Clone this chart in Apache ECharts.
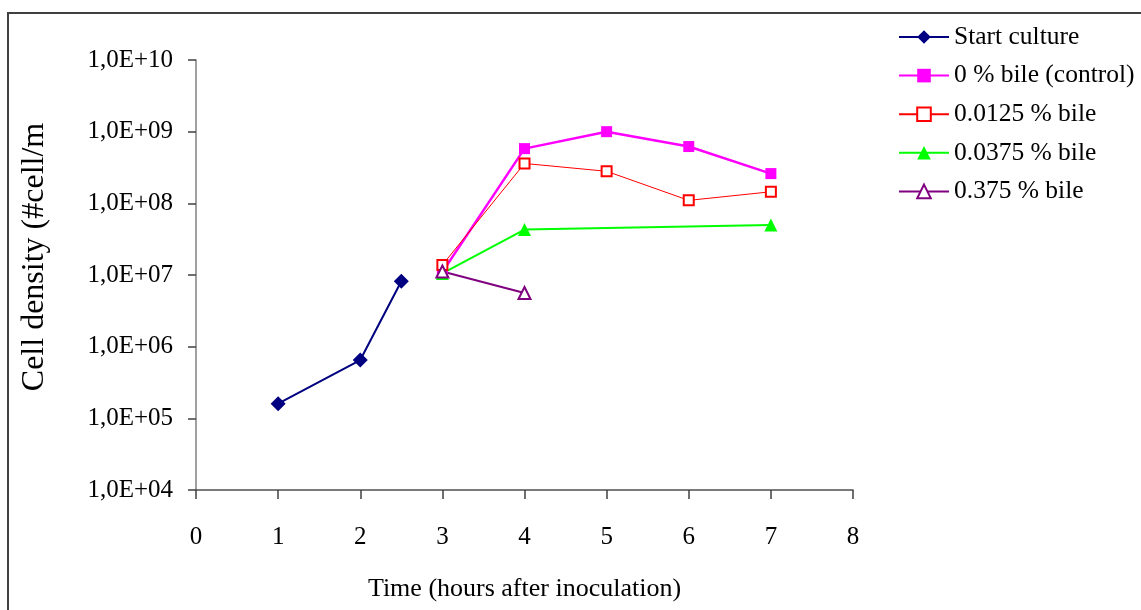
<!DOCTYPE html>
<html>
<head>
<meta charset="utf-8">
<script src="https://cdn.jsdelivr.net/npm/echarts@6/dist/echarts.min.js"></script>
<style>
html,body{margin:0;padding:0;background:#fff;}
#chart{width:1141px;height:610px;}
</style>
</head>
<body>
<div id="chart"></div>
<script>
// ---- data ----
var seriesNames = ['Start culture', '0 % bile (control)', '0.0125 % bile', '0.0375 % bile', '0.375 % bile'];
var startX = [1, 2, 2.5];
var startY = [1.6e5, 6.5e5, 8.2e6];
var ctrlX = [3, 4, 5, 6, 7];
var ctrlY = [1.1e7, 5.8e8, 1.0e9, 6.2e8, 2.6e8];
var b0125X = [3, 4, 5, 6, 7];
var b0125Y = [1.38e7, 3.6e8, 2.8e8, 1.1e8, 1.45e8];
var b0375X = [3, 4, 7];
var b0375Y = [1.05e7, 4.3e7, 5.0e7];
var b375X = [3, 4];
var b375Y = [1.12e7, 5.6e6];
var xTicks = [0, 1, 2, 3, 4, 5, 6, 7, 8];
var yTickLabels = ['1,0E+04', '1,0E+05', '1,0E+06', '1,0E+07', '1,0E+08', '1,0E+09', '1,0E+10'];

function pairs(xs, ys) { return xs.map(function (x, i) { return [x, ys[i]]; }); }

var FONT = 'Liberation Serif';
var chart = echarts.init(document.getElementById('chart'));
chart.setOption({
  backgroundColor: '#ffffff',
  animation: false,
  graphic: [
    { type: 'rect', shape: { x: 8, y: 13, width: 2000, height: 2000 },
      style: { fill: 'none', stroke: '#404040', lineWidth: 2 }, silent: true },
    { type: 'text', x: 35, y: 257, rotation: Math.PI / 2,
      style: { text: 'Cell density (#cell/m', font: '32px "Liberation Serif"', fill: '#000',
               align: 'center', verticalAlign: 'middle' } }
  ],
  legend: {
    orient: 'vertical', left: 898, top: 24, padding: 0,
    itemWidth: 50, itemHeight: 17, itemGap: 12.6,
    data: seriesNames,
    textStyle: { fontFamily: FONT, fontSize: 25.5, color: '#000', lineHeight: 26 }
  },
  grid: { left: 196, right: 288, top: 60, bottom: 120, containLabel: false },
  xAxis: {
    type: 'value', min: 0, max: 8, interval: 1,
    name: 'Time (hours after inoculation)', nameLocation: 'middle', nameGap: 86,
    nameTextStyle: { fontFamily: FONT, fontSize: 26, color: '#000' },
    axisLine: { onZero: false, lineStyle: { color: '#505050', width: 1.5 } },
    axisTick: { show: true, length: 9, lineStyle: { color: '#404040', width: 1.5 } },
    axisLabel: { margin: 35, fontFamily: FONT, fontSize: 25, color: '#000',
      formatter: function (v) { return xTicks.indexOf(v) >= 0 ? String(v) : ''; } },
    splitLine: { show: false }
  },
  yAxis: {
    type: 'log', logBase: 10, min: 1e4, max: 1e10,
    axisLine: { show: true, lineStyle: { color: '#808080', width: 1.5 } },
    axisTick: { show: true, length: 8, lineStyle: { color: '#404040', width: 1.5 } },
    axisLabel: { margin: 23, fontFamily: FONT, fontSize: 25, color: '#000',
      formatter: function (v) {
        var e = Math.round(Math.log10(v));
        return yTickLabels[e - 4] || '';
      } },
    splitLine: { show: false }
  },
  series: [
    { name: seriesNames[0], type: 'line', data: pairs(startX, startY),
      symbol: 'diamond', symbolSize: 15, color: '#000080',
      lineStyle: { color: '#000080', width: 2 }, itemStyle: { color: '#000080' } },
    { name: seriesNames[1], type: 'line', data: pairs(ctrlX, ctrlY),
      symbol: 'rect', symbolSize: 11, color: '#ff00ff',
      lineStyle: { color: '#ff00ff', width: 2.5 }, itemStyle: { color: '#ff00ff' } },
    { name: seriesNames[2], type: 'line', data: pairs(b0125X, b0125Y),
      symbol: 'emptyRect', symbolSize: 10, color: '#ff0000',
      lineStyle: { color: '#ff0000', width: 1 }, itemStyle: { color: '#ff0000', borderWidth: 2 } },
    { name: seriesNames[3], type: 'line', data: pairs(b0375X, b0375Y),
      symbol: 'triangle', symbolSize: 13, color: '#00ff00',
      lineStyle: { color: '#00ff00', width: 2 }, itemStyle: { color: '#00ff00' } },
    { name: seriesNames[4], type: 'line', data: pairs(b375X, b375Y),
      symbol: 'emptyTriangle', symbolSize: 12, color: '#800080',
      lineStyle: { color: '#800080', width: 2 }, itemStyle: { color: '#800080', borderWidth: 2 } }
  ]
});
</script>
</body>
</html>
